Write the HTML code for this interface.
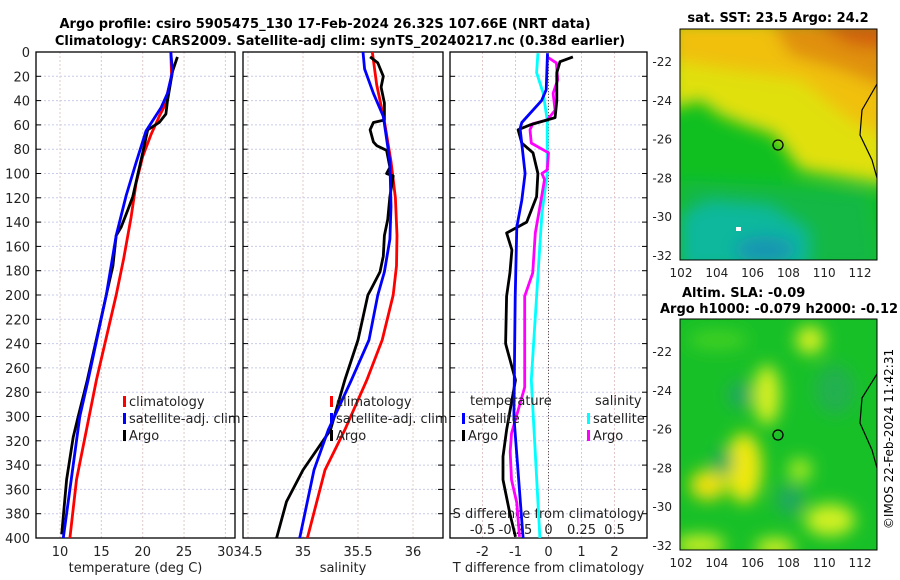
<!DOCTYPE html>
<html><head><meta charset="utf-8"><style>
body{margin:0;background:#fff;}
svg{display:block;font-family:"DejaVu Sans","Liberation Sans",sans-serif;}
</style></head><body>
<svg id="c" width="900" height="580" viewBox="0 0 900 580">
<defs>
<filter id="bl" x="-50%" y="-50%" width="200%" height="200%"><feGaussianBlur stdDeviation="8"/></filter>
<clipPath id="cm1"><rect x="680" y="29" width="197" height="231"/></clipPath>
<clipPath id="cm2"><rect x="680" y="319" width="197" height="231"/></clipPath>
<clipPath id="cp1"><rect x="36" y="52" width="199" height="486"/></clipPath>
<clipPath id="cp2"><rect x="243" y="52" width="200" height="486"/></clipPath>
<clipPath id="cp3"><rect x="450" y="52" width="197" height="486"/></clipPath>
</defs>
<text x="325" y="28" text-anchor="middle" font-size="13" font-weight="bold">Argo profile: csiro 5905475_130 17-Feb-2024 26.32S 107.66E (NRT data)</text>
<text x="340" y="45" text-anchor="middle" font-size="13" font-weight="bold">Climatology: CARS2009. Satellite-adj clim: synTS_20240217.nc (0.38d earlier)</text>
<g id="g"></g>

<!-- map 1 -->
<g clip-path="url(#cm1)">
<rect x="680" y="29" width="197" height="231" fill="#10c020"/>
<g filter="url(#bl)">
<polygon points="670,20 890,20 890,185 800,170 775,135 745,125 720,115 700,100 670,110" fill="#e0e010"/>
<polygon points="670,20 890,20 890,140 850,120 800,80 730,70 670,60" fill="#f0c010"/>
<polygon points="770,20 890,20 890,90 840,70 790,55" fill="#e09010"/>
<polygon points="810,20 890,20 890,50 850,45" fill="#d06010"/>
<polygon points="680,215 710,200 770,205 810,230 810,270 680,270" fill="#10c0c0"/>
<ellipse cx="765" cy="250" rx="30" ry="14" fill="#2080e8"/>
<polygon points="680,180 870,190 880,270 680,270" fill="#10b070" opacity="0.45"/>
</g>
<rect x="736" y="227" width="5" height="4" fill="#fff"/>
</g>
<rect x="680" y="29" width="197" height="231" fill="none" stroke="#000"/>
<path d="M877,84 L862,110 L860,135 L872,160 L877,178" fill="none" stroke="#000" stroke-width="1.2"/>
<circle cx="778" cy="145" r="5" fill="none" stroke="#000" stroke-width="1.3"/>
<text x="778" y="22" text-anchor="middle" font-size="13" font-weight="bold">sat. SST: 23.5 Argo: 24.2</text>

<!-- map 2 -->
<g clip-path="url(#cm2)">
<rect x="680" y="319" width="197" height="231" fill="#18c028"/>
<g filter="url(#bl)">
<ellipse cx="767" cy="395" rx="13" ry="30" fill="#d8f020"/>
<ellipse cx="744" cy="468" rx="18" ry="35" fill="#f0e810"/>
<ellipse cx="708" cy="485" rx="18" ry="15" fill="#f0e010"/>
<ellipse cx="810" cy="340" rx="14" ry="14" fill="#d8f020"/>
<ellipse cx="830" cy="520" rx="25" ry="16" fill="#d0f020"/>
<ellipse cx="700" cy="545" rx="25" ry="10" fill="#d0f020"/>
<ellipse cx="775" cy="548" rx="20" ry="10" fill="#d0f020"/>
<ellipse cx="800" cy="470" rx="12" ry="12" fill="#a0e820"/>
<ellipse cx="723" cy="462" rx="10" ry="13" fill="#20a860"/>
<ellipse cx="790" cy="500" rx="14" ry="15" fill="#20a860"/>
<ellipse cx="740" cy="395" rx="12" ry="14" fill="#20a860"/>
<ellipse cx="835" cy="390" rx="20" ry="25" fill="#20b050"/>
<ellipse cx="718" cy="340" rx="30" ry="10" fill="#40d020"/>
</g>
</g>
<rect x="680" y="319" width="197" height="231" fill="none" stroke="#000"/>
<path d="M877,374 L862,398 L860,423 L872,450 L877,468" fill="none" stroke="#000" stroke-width="1.2"/>
<circle cx="778" cy="435" r="5" fill="none" stroke="#000" stroke-width="1.3"/>
<text x="682" y="297" font-size="13" font-weight="bold">Altim. SLA: -0.09</text>
<text x="660" y="313" font-size="13" font-weight="bold">Argo h1000: -0.079 h2000: -0.12</text>
<text transform="translate(893,439) rotate(-90)" text-anchor="middle" font-size="12">©IMOS 22-Feb-2024 11:42:31</text>
</svg>
<script>
// ---- data ----
const depthTicks=[0,20,40,60,80,100,120,140,160,180,200,220,240,260,280,300,320,340,360,380,400];
const tempTicks=[10,15,20,25,30];
const salTicks=[34.5,35,35.5,36];
const tdiffTicks=[-2,-1,0,1,2];
const sdiffTicks=[-0.5,-0.25,0,0.25,0.5];
const sdiffTickLabels=["-0.5","-0.25","0","0.25","0.5"];
const latTicks=[-22,-24,-26,-28,-30,-32];
const lonTicks=[102,104,106,108,110,112];

const climTDepth=[0,20,45,53,68,86,108,136,170,200,270,352,400];
const climT=[23.4,23.5,22.6,22.0,21.0,20.0,19.2,18.6,17.7,16.8,14.4,12.0,11.2];
const satTDepth=[0,16,34,46,65,91,118,151,200,270,300,400];
const satT=[23.4,23.6,23.0,22.2,20.4,19.2,18.0,16.8,15.6,13.4,12.4,10.4];
const argoTDepth=[4,16,40,51,58,64,83,119,130,144,151,176,200,270,300,317,352,397];
const argoT=[24.2,23.6,23.0,22.8,22.0,20.6,20.0,18.8,18.2,17.4,16.8,16.4,15.6,13.3,12.2,11.6,10.8,10.2];

const climSDepth=[0,27,57,90,120,151,176,200,237,270,311,344,400];
const climS=[35.63,35.67,35.74,35.80,35.84,35.855,35.85,35.82,35.72,35.58,35.38,35.2,35.04];
const satSDepth=[0,14,34,53,90,127,154,181,200,237,270,311,344,400];
const satS=[35.545,35.56,35.64,35.73,35.79,35.80,35.79,35.74,35.68,35.6,35.44,35.23,35.1,34.97];
const argoSDepth=[4,9,20,29,42,56,58,64,74,77,81,95,100,102,119,138,151,168,181,195,200,237,270,311,344,370,400];
const argoS=[35.61,35.68,35.73,35.71,35.74,35.74,35.64,35.61,35.64,35.67,35.76,35.79,35.76,35.82,35.79,35.77,35.74,35.73,35.70,35.62,35.59,35.5,35.38,35.25,35.0,34.85,34.76];

const dTDepth=[1,31,40,58,63,100,122,144,202,300,400];
const satTdiff=[-0.03,-0.07,-0.21,-0.81,-0.86,-0.71,-0.81,-0.96,-1.01,-1.05,-0.77];
const argoTdiffDepth=[4,8,17,40,54,60,64,75,83,100,119,140,149,163,182,201,240,270,311,333,352,380,399];
const argoTdiff=[0.74,0.35,0.25,0.25,0.2,-0.56,-0.92,-0.81,-0.47,-0.32,-0.36,-0.66,-1.27,-1.11,-1.17,-1.27,-1.3,-1.0,-1.27,-1.38,-1.38,-1.17,-1.0];
const dSDepth=[1,17,34,56,100,133,201,270,400];
const satSdiff=[-0.08,-0.09,-0.04,-0.01,-0.01,-0.05,-0.09,-0.13,-0.065];
const argoSdiffDepth=[4,9,23,34,48,56,59,64,75,83,97,100,105,124,149,182,201,276,314,329,352,371,399];
const argoSdiff=[-0.01,0.06,0.07,0.035,0.05,-0.01,-0.12,-0.14,-0.13,0.0,-0.01,-0.05,-0.03,-0.06,-0.10,-0.12,-0.18,-0.18,-0.28,-0.29,-0.28,-0.24,-0.22];

// ---- axes ----
const NS="http://www.w3.org/2000/svg";
const G=document.getElementById('g');
const Y0=52,Y1=538;
const yD=d=>Y0+(d/400)*(Y1-Y0);
const xT=t=>60+(t-10)*8.27;
const xS=s=>303+(s-35)*110;
const xDT=t=>548.5+t*33;
const xDS=s=>548.5+s*132;
const lonX=l=>681+(l-102)*17.9;
function mk(tag,at,parent){const e=document.createElementNS(NS,tag);for(const k in at)e.setAttribute(k,at[k]);(parent||G).appendChild(e);return e;}
function txt(x,y,s,anchor,size){const e=mk('text',{x:x,y:y,'text-anchor':anchor||'middle','font-size':size||13,fill:'#222'});e.textContent=s;return e;}

const panels=[{x:36,w:199,xf:xT,ticks:tempTicks,lab:'temperature (deg C)',name:'temperature-panel'},
{x:243,w:200,xf:xS,ticks:salTicks,lab:'salinity',name:'salinity-panel'},
{x:450,w:197,xf:xDT,ticks:tdiffTicks,lab:'T difference from climatology',name:'difference-panel'}];
panels.forEach(p=>{
  depthTicks.forEach(d=>{
    const l=mk('line',{x1:p.x,x2:p.x+p.w,y1:yD(d),y2:yD(d),stroke:'#c8cce8','stroke-dasharray':'2,2','stroke-width':1});
    
    
    mk('line',{x1:p.x,x2:p.x+5,y1:yD(d),y2:yD(d),stroke:'#000'});
    mk('line',{x1:p.x+p.w-5,x2:p.x+p.w,y1:yD(d),y2:yD(d),stroke:'#000'});
  });
  p.ticks.forEach(t=>{
    const x=p.xf(t);
    const l=mk('line',{x1:x,x2:x,y1:Y0,y2:Y1,stroke:'#e0c8c8','stroke-dasharray':'2,2','stroke-width':1});
    
    
    const tl=txt(x,Y1+18,String(t));
    
    
  });
  const r=mk('rect',{x:p.x,y:Y0,width:p.w,height:Y1-Y0,fill:'none',stroke:'#000','stroke-width':1.3});
  
  
  const xl=txt(p.x+p.w/2,Y1+34,p.lab,'middle',13);
  
  
});
depthTicks.forEach(d=>{
  const t=txt(30,yD(d)+5,String(d),'end',13);
  
  
});
const zl=mk('line',{x1:xDT(0),x2:xDT(0),y1:Y0,y2:Y1,stroke:'#555','stroke-dasharray':'1,2','stroke-width':1});


sdiffTicks.forEach((s,i)=>{
  const t=txt(xDS(s),Y1-4,sdiffTickLabels[i],'middle',13);
  
  
});
const st=txt(xDS(0),Y1-20,'S difference from climatology','middle',13);



function line(depths,vals,xf,color,clip,name){
  const pts=depths.map((d,i)=>xf(vals[i]).toFixed(1)+','+yD(d).toFixed(1)).join(' ');
  const e=mk('polyline',{points:pts,fill:'none',stroke:color,'stroke-width':2.8,'stroke-linejoin':'round','clip-path':'url(#'+clip+')'});
  
  
}
line(climTDepth,climT,xT,'#f00','cp1','temp-climatology-line');
line(argoTDepth,argoT,xT,'#000','cp1','temp-argo-line');
line(satTDepth,satT,xT,'#00f','cp1','temp-satellite-line');
line(climSDepth,climS,xS,'#f00','cp2','sal-climatology-line');
line(argoSDepth,argoS,xS,'#000','cp2','sal-argo-line');
line(satSDepth,satS,xS,'#00f','cp2','sal-satellite-line');
line(dSDepth,satSdiff,xDS,'#0ff','cp3','sdiff-satellite-line');
line(argoSdiffDepth,argoSdiff,xDS,'#f0f','cp3','sdiff-argo-line');
line(argoTdiffDepth,argoTdiff,xDT,'#000','cp3','tdiff-argo-line');
line(dTDepth,satTdiff,xDT,'#00f','cp3','tdiff-satellite-line');

function leg(x,y,color,label,name){
  const r=mk('rect',{x:x,y:y-9,width:3,height:11,fill:color});
  
  
  const t=txt(x+6,y+1,label,'start',13);
  
  
}
leg(123,405,'#f00','climatology','legend-t-climatology');
leg(123,422,'#00f','satellite-adj. clim','legend-t-satellite');
leg(123,439,'#000','Argo','legend-t-argo');
leg(330,405,'#f00','climatology','legend-s-climatology');
leg(330,422,'#00f','satellite-adj. clim','legend-s-satellite');
leg(330,439,'#000','Argo','legend-s-argo');
const lt=txt(470,405,'temperature','start',13);


const ls=txt(595,405,'salinity','start',13);


leg(462,422,'#00f','satellite','legend-dt-satellite');
leg(462,439,'#000','Argo','legend-dt-argo');
leg(587,422,'#0ff','satellite','legend-ds-satellite');
leg(587,439,'#f0f','Argo','legend-ds-argo');

// map ticks
[[61,'lat-top'],[351,'lat-bottom']].forEach(([base,nm])=>{
  latTicks.forEach(l=>{
    const y=base+(-22-l)*19.4;
    const t=txt(672,y+5,String(l),'end',12);
    
    
    mk('line',{x1:680,x2:684,y1:y,y2:y,stroke:'#000'});
    mk('line',{x1:873,x2:877,y1:y,y2:y,stroke:'#000'});
  });
});
[[277,'lon-top'],[567,'lon-bottom']].forEach(([y,nm])=>{
  lonTicks.forEach(l=>{
    const t=txt(lonX(l),y,String(l),'middle',12);
    
    
  });
});
</script>
</body></html>
